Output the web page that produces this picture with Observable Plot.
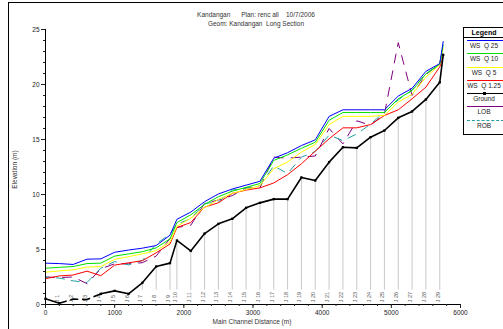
<!DOCTYPE html>
<html><head><meta charset="utf-8">
<script src="https://cdn.jsdelivr.net/npm/d3@7"></script>
<script src="https://cdn.jsdelivr.net/npm/@observablehq/plot@0.6"></script>
<style>
body{margin:0;background:#fff;font-family:"Liberation Sans",Arial,sans-serif;}
#wrap{position:relative;width:503px;height:329px;overflow:hidden;background:#fff;}
#frame{position:absolute;left:8px;top:2px;width:700px;height:500px;border-left:1px solid #000;border-top:1px solid #000;}
#chart{position:absolute;left:0;top:0;}
.t{position:absolute;font-size:7px;color:#333;white-space:pre;text-align:center;}
#legend{position:absolute;left:463px;top:27px;width:50px;height:106px;border:1px solid #000;background:#fff;}
#legend .hd{font-weight:bold;font-size:7px;text-align:center;width:40px;height:9px;line-height:9px;border-bottom:1px solid #000;}
#legend .it{position:relative;height:13.3px;width:40px;}
#legend .ln{position:absolute;left:3px;width:37px;top:2px;height:0;}
#legend .lb{position:absolute;left:0;width:40px;text-align:center;top:4px;font-size:6.5px;white-space:pre;color:#222;}
</style></head><body>
<div id="wrap">
<div id="frame"></div>
<div id="chart"></div>
<div class="t" style="left:0;width:512px;top:11px;font-size:6.5px;">Kandangan      Plan: renc all    10/7/2006</div>
<div class="t" style="left:0;width:512px;top:20px;font-size:6.5px;">Geom: Kandangan  Long Section</div>
<div class="t" style="left:0;top:318px;width:504px;font-size:6.5px;">Main Channel Distance (m)</div>
<div class="t" style="left:-16px;top:166px;width:60px;font-size:6.5px;transform:rotate(-90deg);">Elevation (m)</div>
<div id="legend"></div>
</div>
<script>
const stations = [0,200,400,600,800,1000,1200,1400,1600,1800,1900,2100,2300,2500,2700,2900,3100,3300,3500,3700,3900,4100,4300,4500,4700,4900,5100,5300,5500,5700,5750];
const stationLabels = ["","J 1","J 2","J 3","J 4","J 5","J 6","J 7","J 8","J 9","J 10","J 11","J 12","J 13","J 14","J 15","J 16","J 17","J 18","J 19","J 20","J 21","J 22","J 23","J 24","J 25","J 26","J 27","J 28","J 29",""];
const ground = [0.52,0.12,0.5,0.45,0.97,1.24,0.97,1.97,3.45,3.76,5.82,4.87,6.45,7.33,7.79,8.79,9.24,9.58,9.58,11.55,11.27,12.94,14.3,14.24,15.21,15.82,16.97,17.55,18.64,20.2,22.7];
const wsQ25 = [3.76,3.72,3.64,4.12,4.15,4.75,4.95,5.12,5.36,6.3,7.75,8.4,9.35,10.05,10.5,10.85,11.2,13.3,13.8,14.45,14.97,17.1,17.7,17.7,17.7,17.7,18.95,19.65,21.2,21.9,23.9];
const wsQ10 = [3.3,3.38,3.45,3.72,3.76,4.4,4.6,4.8,5.15,5.97,7.45,8.15,9.1,9.8,10.3,10.65,11.0,13.1,13.6,14.2,14.75,16.75,17.45,17.45,17.45,17.45,18.7,19.45,20.97,21.85,23.6];
const wsQ5 = [2.94,3.05,3.15,3.4,3.45,4.1,4.35,4.6,4.9,5.67,7.1,7.85,8.8,9.55,10.1,10.45,10.8,12.35,12.95,13.85,14.55,16.36,17.1,17.1,17.1,17.2,18.4,19.1,20.67,21.8,23.3];
const wsQ125 = [2.35,2.6,2.68,3.03,2.62,3.58,3.79,3.98,4.7,5.5,7.0,7.45,8.85,9.25,10.1,10.4,10.6,11.05,11.8,12.79,13.94,15.06,16.06,16.06,16.36,17.18,17.7,18.7,19.76,21.6,22.5];
const lob = [2.5,2.45,2.5,1.9,3.25,3.7,3.7,3.8,4.4,6.0,7.0,7.2,9.2,9.5,9.9,10.6,10.6,13.4,13.3,13.4,13.5,16.0,14.6,16.7,16.3,17.3,23.8,19.0,20.9,21.9,23.5];
const rob = [2.5,2.4,2.15,2.0,3.3,3.9,3.6,4.0,5.5,6.4,7.3,7.8,9.2,9.3,10.4,10.6,10.8,12.6,11.9,13.4,13.9,15.4,14.9,15.5,16.4,17.5,18.6,19.5,21.0,21.8,23.0];
const seriesNames = ["WS  Q 25","WS  Q 10","WS  Q 5","WS  Q 1.25","Ground","LOB","ROB"];
const seriesColors = ["#0000ff","#00e000","#ffff00","#ff0000","#000000","#800080","#22a0a0"];
const xTicks = [0,1000,2000,3000,4000,5000,6000];
const yTicks = [0,5,10,15,20,25];

const rows = stations.map((d,i)=>({d, label: stationLabels[i], g: ground[i], q25: wsQ25[i], q10: wsQ10[i], q5: wsQ5[i], q125: wsQ125[i], lob: lob[i], rob: rob[i]}));
const groundA = rows.filter(r=>r.d<=200);
const groundDash = rows.filter(r=>r.d>=200 && r.d<=800);
const groundB = rows.filter(r=>r.d>=800);
const labeled = rows.filter(r=>r.label);
const ruled = labeled.filter(r=>r.g>1.3);

const chart = Plot.plot({
  width:503, height:329, marginLeft:45, marginRight:43, marginTop:29, marginBottom:25,
  x:{domain:[0,6000]}, y:{domain:[0,25]},
  style:{fontFamily:"'Liberation Sans',Arial,sans-serif", fontSize:"6.5px", background:"transparent", overflow:"visible", color:"#222"},
  marks:[
    Plot.ruleX(ruled, {x:"d", y1:1.3, y2:"g", stroke:"#c8c8c8", strokeWidth:1}),
    Plot.text(labeled, {x:"d", y:0.2, text:"label", rotate:-90, textAnchor:"start", lineAnchor:"bottom", fontSize:5.5, fill:"#555"}),
    Plot.line(rows, {x:"d", y:"lob", stroke:seriesColors[5], strokeWidth:1, strokeDasharray:"9,8"}),
    Plot.line(rows, {x:"d", y:"rob", stroke:seriesColors[6], strokeWidth:1, strokeDasharray:"8,7", strokeDashoffset:4}),
    Plot.line(rows, {x:"d", y:"q125", stroke:seriesColors[3], strokeWidth:1}),
    Plot.line(rows, {x:"d", y:"q5", stroke:seriesColors[2], strokeWidth:1}),
    Plot.line(rows, {x:"d", y:"q10", stroke:seriesColors[1], strokeWidth:1}),
    Plot.line(rows, {x:"d", y:"q25", stroke:seriesColors[0], strokeWidth:1}),
    Plot.line(groundA, {x:"d", y:"g", stroke:"#000", strokeWidth:1.6}),
    Plot.line(groundDash, {x:"d", y:"g", stroke:"#000", strokeWidth:1.6, strokeDasharray:"7,5"}),
    Plot.line(groundB, {x:"d", y:"g", stroke:"#000", strokeWidth:1.6}),
    Plot.dot(rows.filter(r=>r.d!==400 && r.d!==600), {x:"d", y:"g", symbol:"square", r:1.3, fill:"#000"}),
    Plot.ruleY([0], {x1:0, x2:6000, stroke:"#000", strokeWidth:1.2}),
    Plot.ruleX([0], {y1:0, y2:25, stroke:"#000", strokeWidth:1}),
    Plot.axisY({ticks:yTicks, tickSize:4, tickPadding:2, label:null, fontSize:6.5, tickFormat:d=>String(d)}),
    Plot.axisY({ticks:d3.range(0,26,1), tickSize:2, tickFormat:()=>"", label:null}),
    Plot.axisX({ticks:xTicks, tickSize:4, tickPadding:2, label:null, fontSize:6.5, tickFormat:d=>String(d)}),
    Plot.axisX({ticks:d3.range(0,6001,200), tickSize:2, tickFormat:()=>"", label:null})
  ]
});
document.getElementById("chart").appendChild(chart);

const lg = document.getElementById("legend");
let html = '<div class="hd">Legend</div>';
seriesNames.forEach((n,i)=>{
  const dash = n==="ROB" ? "dashed" : "solid";
  const w = n==="Ground" ? 1.6 : 1.2;
  html += `<div class="it"><div class="ln" style="border-top:${w}px ${dash} ${seriesColors[i]}"></div>` +
    (n==="Ground" ? `<div style="position:absolute;left:19px;top:1px;width:3px;height:3px;background:#000"></div>` : "") +
    `<div class="lb">${n}</div></div>`;
});
lg.innerHTML = html;
</script>
</body></html>
